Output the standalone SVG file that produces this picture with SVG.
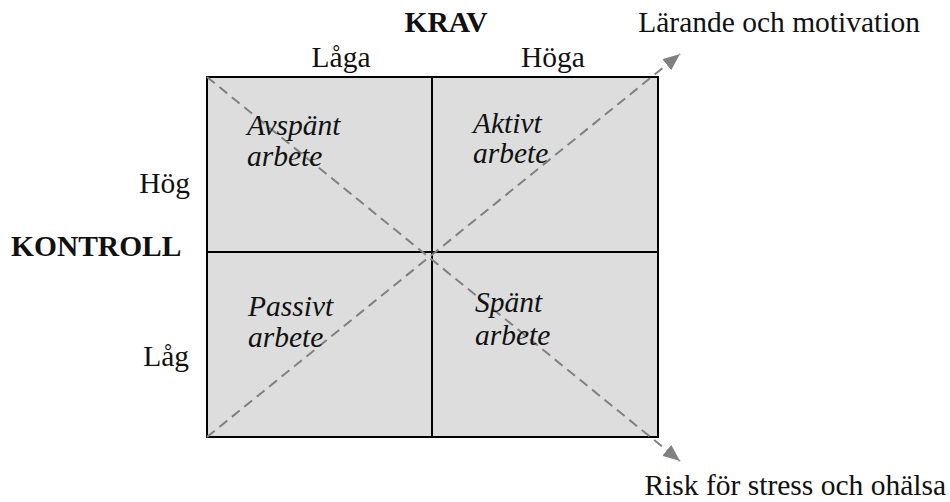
<svg xmlns="http://www.w3.org/2000/svg" width="950" height="502" viewBox="0 0 950 502">
<style>
.t{font-family:"Liberation Serif","Times New Roman",serif;font-size:29.5px;fill:#111}
.b{font-weight:bold}
.i{font-style:italic}
.box{fill:#dddddd;stroke:#000;stroke-width:2}
.div{stroke:#000;stroke-width:2;fill:none}
.dash{stroke:#808080;stroke-width:2;stroke-dasharray:10 6;fill:none}
</style>
<defs>
<marker id="ah" markerWidth="18" markerHeight="14" refX="17" refY="7" orient="auto" markerUnits="userSpaceOnUse">
<path d="M0,0 L17,7 L0,14 Z" fill="#808080"/>
</marker>
</defs>
<rect x="0" y="0" width="950" height="502" fill="#fff"/>
<g id="grid">
<rect class="box" x="207" y="77" width="451" height="360"/>
<line class="div" x1="432" y1="77" x2="432" y2="437"/>
<line class="div" x1="207" y1="252" x2="658" y2="252"/>
</g>
<g id="connectors">
<line class="dash" x1="207" y1="437" x2="680" y2="54" marker-end="url(#ah)"/>
<line class="dash" x1="207" y1="77" x2="680" y2="461" marker-end="url(#ah)"/>
</g>
<g id="axis-krav">
<text class="t b" x="446" y="32" text-anchor="middle">KRAV</text>
<text class="t" x="341" y="67" text-anchor="middle">Låga</text>
<text class="t" x="553" y="67" text-anchor="middle">Höga</text>
</g>
<g id="axis-kontroll">
<text class="t" x="190" y="193" text-anchor="end">Hög</text>
<text class="t b" x="11" y="256">KONTROLL</text>
<text class="t" x="189" y="366" text-anchor="end">Låg</text>
</g>
<g id="q-avspant"><text class="t i" x="247" y="135">Avspänt</text><text class="t i" x="247" y="166">arbete</text></g>
<g id="q-aktivt"><text class="t i" x="473" y="133">Aktivt</text><text class="t i" x="473" y="163">arbete</text></g>
<g id="q-passivt"><text class="t i" x="248" y="316">Passivt</text><text class="t i" x="248" y="347">arbete</text></g>
<g id="q-spant"><text class="t i" x="475" y="312">Spänt</text><text class="t i" x="475" y="345">arbete</text></g>
<g id="out-top"><text class="t" x="920" y="32" text-anchor="end">Lärande och motivation</text></g>
<g id="out-bottom"><text class="t" x="946" y="495" text-anchor="end">Risk för stress och ohälsa</text></g>
</svg>
